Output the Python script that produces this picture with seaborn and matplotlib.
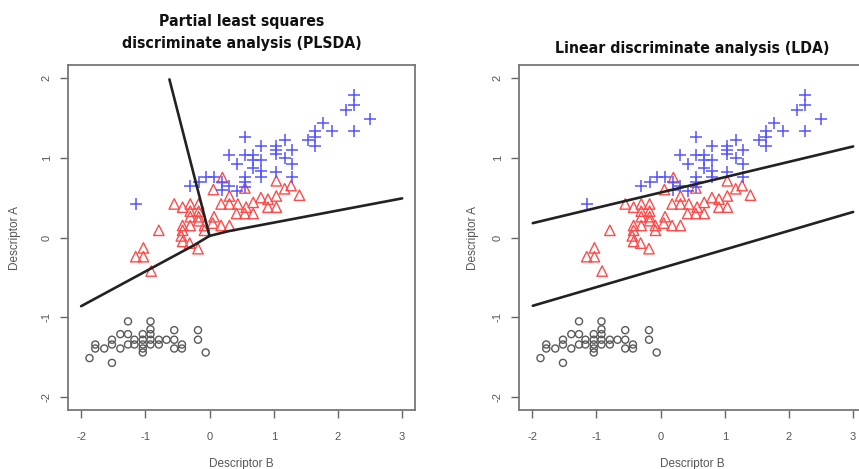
import numpy as np
import pandas as pd
import matplotlib
matplotlib.use("Agg")
import matplotlib.pyplot as plt
import seaborn as sns

# ---------------- data ----------------
blue_x = [2.25, 2.25, 2.13, 2.50, 1.77, 2.25, 1.90, 1.64, 1.64, 1.54, 1.64,
          0.55, 0.80, 1.04, 1.17, 1.04, 1.29, 0.31, 0.55, 0.68, 0.68, 0.80,
          1.04, 1.17, 1.29, 0.43, 0.68, 0.80, 1.04, 1.29, 0.55, 0.55, 0.80,
          -0.05, 0.07, -0.17, -0.30, 0.19, 0.19, 0.31, 0.43, 0.55, -1.15]
blue_y = [1.78, 1.66, 1.60, 1.48, 1.43, 1.33, 1.33, 1.33, 1.26, 1.22, 1.14,
          1.26, 1.15, 1.15, 1.22, 1.10, 1.10, 1.03, 1.03, 1.03, 0.97, 0.97,
          1.04, 0.99, 0.92, 0.92, 0.87, 0.83, 0.82, 0.76, 0.76, 0.69, 0.76,
          0.76, 0.76, 0.69, 0.64, 0.69, 0.60, 0.64, 0.58, 0.63, 0.42]

red_x = [0.20, 0.06, 0.31, 0.55, 1.04, 1.17, 1.27, 1.40, 1.04, 0.91, 0.80,
         0.68, 0.57, 0.44, 0.31, 0.18, 0.42, 0.55, 0.68, 0.91, 1.04, -0.55,
         -0.42, -0.30, -0.17, -0.30, -0.17, 0.07, 0.18, 0.31, -0.42, -0.30,
         -0.17, -0.08, -0.79, -0.42, -0.44, -0.42, -0.31, -0.18, -0.08, -1.03,
         -1.15, -1.03, -0.91, -0.30, -0.17, 0.05]
red_y = [0.75, 0.60, 0.52, 0.62, 0.71, 0.61, 0.65, 0.53, 0.52, 0.48, 0.50,
         0.44, 0.38, 0.42, 0.42, 0.42, 0.30, 0.30, 0.30, 0.38, 0.38, 0.42,
         0.38, 0.42, 0.42, 0.26, 0.26, 0.26, 0.15, 0.15, 0.15, 0.15,
         0.21, 0.15, 0.09, 0.09, 0.02, -0.05, -0.07, -0.14, 0.09, -0.13,
         -0.24, -0.24, -0.42, 0.33, 0.33, 0.18]

grey_x = [-1.27, -0.92, -0.92, -0.55, -0.18, -0.18, -1.39, -1.27, -1.04, -0.92,
          -1.52, -1.17, -1.04, -0.92, -0.79, -0.67, -0.55, -1.78, -1.52, -1.27,
          -1.17, -1.04, -0.92, -0.79, -0.43, -1.78, -1.64, -1.39, -1.04, -0.55,
          -0.43, -1.04, -1.87, -0.06, -1.52]
grey_y = [-1.05, -1.05, -1.15, -1.16, -1.16, -1.28, -1.21, -1.21, -1.21, -1.21,
          -1.28, -1.28, -1.28, -1.28, -1.28, -1.28, -1.28, -1.34, -1.34, -1.34,
          -1.34, -1.34, -1.34, -1.34, -1.34, -1.39, -1.39, -1.39, -1.39, -1.39,
          -1.39, -1.44, -1.51, -1.44, -1.57]

# PLSDA boundaries (polylines)
pls_up_x = [-0.625, 0.0]
pls_up_y = [1.98, 0.02]
pls_left_x = [0.0, -0.25, -2.0]
pls_left_y = [0.02, -0.10, -0.86]
pls_right_x = [0.0, 0.30, 3.0]
pls_right_y = [0.02, 0.08, 0.49]

# LDA boundaries
lda_up_x = [-1.99, 3.0]
lda_up_y = [0.18, 1.14]
lda_low_x = [-1.99, 3.0]
lda_low_y = [-0.855, 0.32]

titles = ["Partial least squares\ndiscriminate analysis (PLSDA)",
          "Linear discriminate analysis (LDA)"]
x_ticks = [-2, -1, 0, 1, 2, 3]
y_ticks = [-2, -1, 0, 1, 2]
x_label = "Descriptor B"
y_label = "Descriptor A"

# ---------------- style ----------------
sns.set_style("white")
plt.rcParams['font.family'] = ['Liberation Sans', 'DejaVu Sans']

W, H = 859, 469
fig = plt.figure(figsize=(W / 100, H / 100), dpi=100)
ax_w = 346.7 / W
ax_h = (410 - 65) / H
ax_b = 1 - 410 / H
ax1 = fig.add_axes([68.3 / W, ax_b, ax_w, ax_h])
ax2 = fig.add_axes([519.3 / W, ax_b, ax_w, ax_h])

blue = "#5555ff"
red = "#ff4a4a"
grey = "#5a5a5a"
line_c = "#222222"

for i, ax in enumerate([ax1, ax2]):
    sns.scatterplot(x=grey_x, y=grey_y, ax=ax, marker='o', s=26,
                    facecolors='none', edgecolor=grey, linewidth=1.0)
    sns.scatterplot(x=red_x, y=red_y, ax=ax, marker='^', s=56,
                    facecolors='none', edgecolor=red, linewidth=1.0)
    sns.scatterplot(x=blue_x, y=blue_y, ax=ax, marker='+', s=70,
                    color=blue, linewidth=1.1)
    if i == 0:
        segs = [(pls_up_x, pls_up_y), (pls_left_x, pls_left_y),
                (pls_right_x, pls_right_y)]
    else:
        segs = [(lda_up_x, lda_up_y), (lda_low_x, lda_low_y)]
    for sx, sy in segs:
        sns.lineplot(x=sx, y=sy, ax=ax, sort=False, estimator=None,
                     color=line_c, linewidth=1.9)

    ax.set_xlim(-2.2, 3.2)
    ax.set_ylim(-2.16, 2.16)
    ax.set_xticks(x_ticks)
    ax.set_yticks(y_ticks)
    ax.set_xticklabels([str(t) for t in x_ticks])
    ax.set_yticklabels([str(t) for t in y_ticks], rotation=90, va='center')
    ax.tick_params(axis='both', direction='out', length=6, width=1.0,
                   color='#666666', labelcolor='#555555', labelsize=8,
                   bottom=True, left=True)
    ax.tick_params(axis='x', pad=10)
    ax.tick_params(axis='y', pad=6)
    for sp in ax.spines.values():
        sp.set_visible(True)
        sp.set_color('#777777')
        sp.set_linewidth(1.3)
    ax.set_xlabel(x_label, fontsize=8.5, color='#555555', labelpad=11)
    ax.set_ylabel(y_label, fontsize=8.5, color='#555555',
                  labelpad=15 if i == 0 else 10)
    ax.set_title(titles[i], fontsize=11.3, fontweight='bold',
                 pad=12 if i == 0 else 9,
                 family=['Liberation Sans Narrow', 'DejaVu Sans'],
                 fontstretch='condensed',
                 color='#111111', linespacing=1.65)

fig.savefig("out.png", dpi=100)
